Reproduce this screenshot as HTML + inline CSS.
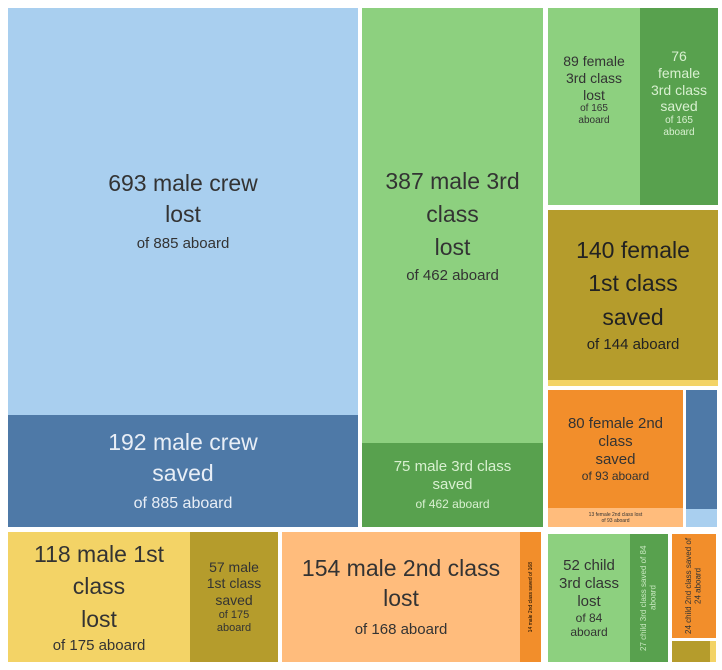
<!DOCTYPE html>
<html><head><style>
body{margin:0;width:722px;height:670px;background:#fff;position:relative;overflow:hidden;font-family:"Liberation Sans",sans-serif}
.b{position:absolute;box-sizing:border-box;display:flex;flex-direction:column;align-items:center;justify-content:center;text-align:center;line-height:1.2}
.r{writing-mode:vertical-rl;transform:rotate(180deg);font-size:5px}
</style></head><body>
<div class="b" style="left:8px;top:8px;width:350px;height:407px;background:#a9cfef;color:#333;font-size:23px;line-height:1.35"><div>693 male crew<br>lost</div><div style="font-size:15px;margin-top:4px">of 885 aboard</div></div>
<div class="b" style="left:8px;top:415px;width:350px;height:112px;background:#4e79a7;color:#e8eef6;font-size:23px;line-height:1.35"><div>192 male crew<br>saved</div><div style="font-size:16px;margin-top:4px">of 885 aboard</div></div>
<div class="b" style="left:362px;top:8px;width:181px;height:435px;background:#8dd07f;color:#333;font-size:23px;line-height:1.45"><div>387 male 3rd<br>class<br>lost</div><div style="font-size:15px">of 462 aboard</div></div>
<div class="b" style="left:362px;top:443px;width:181px;height:84px;background:#58a14e;color:#d8f0d0;font-size:15px"><div>75 male 3rd class<br>saved</div><div style="font-size:12px;margin-top:3px">of 462 aboard</div></div>
<div class="b" style="left:8px;top:532px;width:182px;height:130px;background:#f3d366;color:#333;font-size:23px;line-height:1.4"><div>118 male 1st<br>class<br>lost</div><div style="font-size:15px">of 175 aboard</div></div>
<div class="b" style="left:190px;top:532px;width:88px;height:130px;background:#b59c2c;color:#333;font-size:14px"><div>57 male<br>1st class<br>saved</div><div style="font-size:11px">of 175<br>aboard</div></div>
<div class="b" style="left:282px;top:532px;width:238px;height:130px;background:#ffbc7c;color:#333;font-size:23px;line-height:1.3"><div>154 male 2nd class<br>lost</div><div style="font-size:15px;margin-top:6px">of 168 aboard</div></div>
<div class="b" style="left:520px;top:532px;width:21px;height:130px;background:#f28e2b"><div class="r">14 male 2nd class saved of 168</div></div>
<div class="b" style="left:548px;top:8px;width:92px;height:197px;background:#8dd07f;color:#333;font-size:14px;justify-content:flex-start;padding-top:45px"><div>89 female<br>3rd class<br>lost</div><div style="font-size:10px">of 165<br>aboard</div></div>
<div class="b" style="left:640px;top:8px;width:78px;height:197px;background:#58a14e;color:#d8f0d0;font-size:14px;justify-content:flex-start;padding-top:40px"><div>76<br>female<br>3rd class<br>saved</div><div style="font-size:10px">of 165<br>aboard</div></div>
<div class="b" style="left:548px;top:210px;width:170px;height:170px;background:#b59c2c;color:#222;font-size:23px;line-height:1.45"><div>140 female<br>1st class<br>saved</div><div style="font-size:15px">of 144 aboard</div></div>
<div class="b" style="left:548px;top:380px;width:170px;height:6px;background:#f3d366"></div>
<div class="b" style="left:548px;top:390px;width:135px;height:118px;background:#f28e2b;color:#333;font-size:15px"><div>80 female 2nd<br>class<br>saved</div><div style="font-size:12px">of 93 aboard</div></div>
<div class="b" style="left:548px;top:508px;width:135px;height:19px;background:#ffbc7c;color:#333;font-size:5px">13 female 2nd class lost<br>of 93 aboard</div>
<div class="b" style="left:686px;top:390px;width:31px;height:119px;background:#4e79a7"></div>
<div class="b" style="left:686px;top:509px;width:31px;height:18px;background:#a9cfef"></div>
<div class="b" style="left:548px;top:534px;width:82px;height:128px;background:#8dd07f;color:#333;font-size:15px"><div>52 child<br>3rd class<br>lost</div><div style="font-size:12px">of 84<br>aboard</div></div>
<div class="b" style="left:630px;top:534px;width:38px;height:128px;background:#58a14e;color:#c8e8c0"><div class="r" style="font-size:8px">27 child 3rd class saved of 84 aboard</div></div>
<div class="b" style="left:672px;top:534px;width:44px;height:104px;background:#f28e2b;color:#333"><div class="r" style="font-size:8px">24 child 2nd class saved of 24 aboard</div></div>
<div class="b" style="left:672px;top:641px;width:38px;height:21px;background:#b59c2c"></div>
<div class="b" style="left:710px;top:641px;width:6px;height:21px;background:#f3d366"></div>
</body></html>
